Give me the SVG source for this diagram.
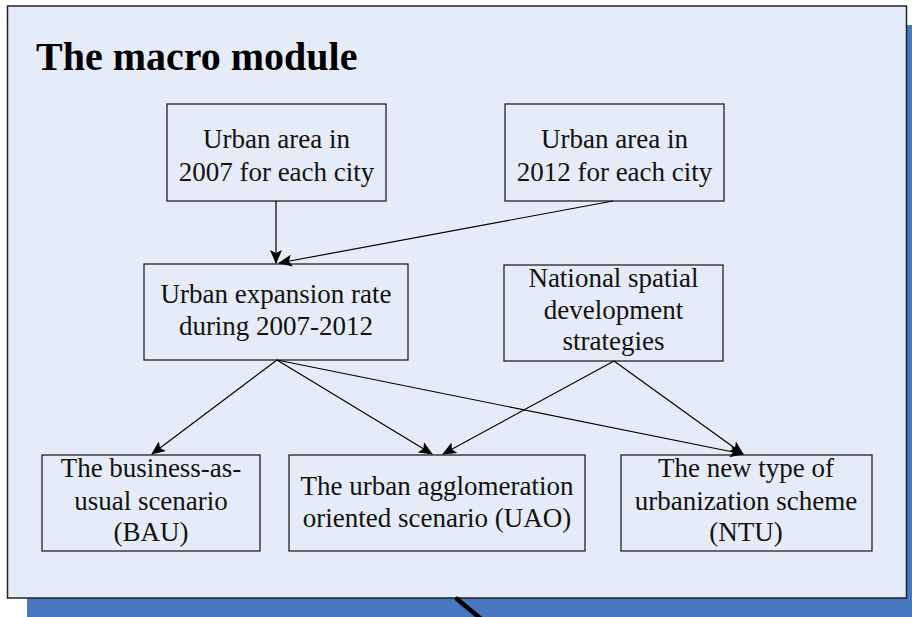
<svg xmlns="http://www.w3.org/2000/svg" width="912" height="617" viewBox="0 0 912 617">
<defs>
<style>
.box{fill:none;stroke:#222;stroke-width:1.3}
.t{font-family:"Liberation Serif","Times New Roman",serif;font-size:27px;fill:#111;text-anchor:middle}
.title{font-family:"Liberation Serif","Times New Roman",serif;font-size:40px;font-weight:bold;fill:#000}
.c{stroke:#000;stroke-width:1.2;fill:none;marker-end:url(#ah)}
</style>
<marker id="ah" markerUnits="userSpaceOnUse" markerWidth="14" markerHeight="12" viewBox="0 0 14 12" refX="13" refY="6" orient="auto">
<path d="M0,0 L14,6 L0,12 L3,6 Z" fill="#000"/>
</marker>
</defs>
<rect x="0" y="0" width="912" height="617" fill="#ffffff"/>
<rect x="27" y="25" width="900" height="610" fill="#4878bf"/>
<rect x="7.5" y="6" width="899" height="592" fill="#e6ecf7" stroke="#222" stroke-width="1.5"/>
<line x1="457" y1="599" x2="492" y2="628" stroke="#000" stroke-width="4.5" stroke-linecap="round"/>
<text class="title" x="36" y="70">The macro module</text>
<g id="n1"><rect class="box" x="167" y="104" width="219" height="97"/><text class="t" x="276.5" y="148">Urban area in</text><text class="t" x="276.5" y="181">2007 for each city</text></g>
<g id="n2"><rect class="box" x="505" y="104" width="219" height="97"/><text class="t" x="614.5" y="148">Urban area in</text><text class="t" x="614.5" y="181">2012 for each city</text></g>
<g id="n3"><rect class="box" x="144" y="264" width="264" height="96"/><text class="t" x="276" y="303">Urban expansion rate</text><text class="t" x="276" y="335">during 2007-2012</text></g>
<g id="n4"><rect class="box" x="504" y="265" width="219" height="96"/><text class="t" x="613.5" y="287">National spatial</text><text class="t" x="613.5" y="319">development</text><text class="t" x="613.5" y="350">strategies</text></g>
<g id="n5"><rect class="box" x="42" y="455" width="218" height="96"/><text class="t" x="151" y="477">The business-as-</text><text class="t" x="151" y="510">usual scenario</text><text class="t" x="151" y="541">(BAU)</text></g>
<g id="n6"><rect class="box" x="289" y="455" width="296" height="96"/><text class="t" x="437" y="495">The urban agglomeration</text><text class="t" x="437" y="527">oriented scenario (UAO)</text></g>
<g id="n7"><rect class="box" x="621" y="455" width="251" height="96"/><text class="t" x="746" y="477">The new type of</text><text class="t" x="746" y="510">urbanization scheme</text><text class="t" x="746" y="541">(NTU)</text></g>
<g id="connectors">
<line class="c" x1="276" y1="201" x2="276" y2="263"/>
<line class="c" x1="613" y1="201" x2="279" y2="263"/>
<line class="c" x1="277" y1="360" x2="152" y2="454"/>
<line class="c" x1="277" y1="360" x2="432" y2="454"/>
<line class="c" x1="277" y1="360" x2="743" y2="454"/>
<line class="c" x1="614" y1="361" x2="443" y2="454"/>
<line class="c" x1="614" y1="361" x2="743" y2="454"/>
</g>
</svg>
